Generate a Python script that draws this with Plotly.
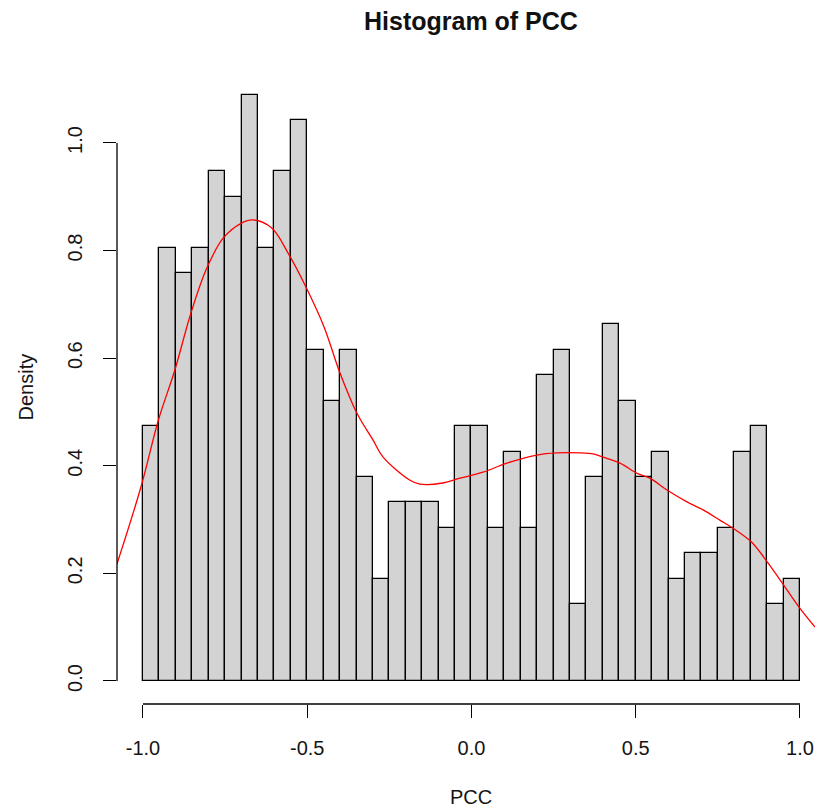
import numpy as np
import plotly.graph_objects as go

# ---- data ----
bin_start = -1.0
bin_width = 0.05
counts = [10, 17, 16, 17, 20, 19, 23, 17, 20, 22,
          13, 11, 13, 8, 4, 7, 7, 7, 6, 10,
          10, 6, 9, 6, 12, 13, 3, 8, 14, 11,
          8, 9, 4, 5, 5, 6, 9, 10, 3, 4]
n_obs = sum(counts)

dens_x = [-1.080, -1.006, -0.953, -0.903, -0.854, -0.806, -0.756, -0.700, -0.665,
          -0.608, -0.558, -0.507, -0.450, -0.400, -0.349, -0.300, -0.269, -0.187,
          -0.157, -0.087, -0.035, 0.035, 0.108, 0.199, 0.260, 0.330, 0.370, 0.400,
          0.452, 0.504, 0.543, 0.595, 0.656, 0.705, 0.756, 0.796, 0.853, 0.903,
          0.954, 1.000, 1.046]
dens_y = [0.216, 0.361, 0.485, 0.578, 0.684, 0.767, 0.823, 0.851, 0.857,
          0.842, 0.795, 0.736, 0.660, 0.572, 0.498, 0.448, 0.416, 0.373,
          0.366, 0.368, 0.377, 0.388, 0.405, 0.420, 0.424, 0.424, 0.422, 0.416,
          0.405, 0.386, 0.377, 0.355, 0.333, 0.318, 0.299, 0.284, 0.258, 0.219,
          0.175, 0.135, 0.100]

x_tickvals = [-1.0, -0.5, 0.0, 0.5, 1.0]
x_ticktext = ["-1.0", "-0.5", "0.0", "0.5", "1.0"]
y_tickvals = [0.0, 0.2, 0.4, 0.6, 0.8, 1.0]
y_ticktext = ["0.0", "0.2", "0.4", "0.6", "0.8", "1.0"]

# ---- derived ----
centers = bin_start + bin_width * (np.arange(len(counts)) + 0.5)
density = np.array(counts) / (n_obs * bin_width)

FONT = "Liberation Sans, Arial, sans-serif"
TXT = "#151515"

fig = go.Figure()
fig.add_trace(go.Bar(
    x=centers, y=density, width=bin_width,
    marker=dict(color="#D3D3D3", line=dict(color="black", width=1.3)),
    showlegend=False, hoverinfo="skip",
))
fig.add_trace(go.Scatter(
    x=dens_x, y=dens_y, mode="lines",
    line=dict(color="#FF0000", width=1.3, shape="spline"),
    showlegend=False, hoverinfo="skip",
))

PH = 808 - 71 - 104
PW = 815 - 117

fig.update_layout(
    width=815, height=808,
    margin=dict(l=117, r=0, t=71, b=104, pad=0),
    paper_bgcolor="white", plot_bgcolor="white",
    font=dict(family=FONT, size=20, color=TXT),
    bargap=0,
    xaxis=dict(
        range=[-1.0791, 1.0457], showgrid=False, zeroline=False, showline=False,
        tickvals=x_tickvals, ticktext=x_ticktext,
        ticks="outside", ticklen=13, tickwidth=1.3, tickcolor="black",
        tickfont=dict(size=20, family=FONT, color=TXT),
        ticklabelstandoff=13,
    ),
    yaxis=dict(
        range=[-0.0428, 1.1338], showgrid=False, zeroline=False, showline=False,
        tickvals=y_tickvals, ticktext=y_ticktext, tickangle=-90,
        ticks="outside", ticklen=13, tickwidth=1.3, tickcolor="black",
        tickfont=dict(size=20, family=FONT, color=TXT),
        ticklabelstandoff=13,
    ),
    shapes=[
        dict(type="line", xref="x", yref="paper", x0=-1.0, x1=1.0, y0=0, y1=0,
             line=dict(color="black", width=1.3)),
        dict(type="line", xref="paper", yref="y", x0=0, x1=0, y0=0.0, y1=1.0,
             line=dict(color="black", width=1.3)),
    ],
    annotations=[
        dict(text="<b>Histogram of PCC</b>", xref="paper", yref="paper",
             x=0.507, y=(808 - 21 - 104) / PH, xanchor="center", yanchor="middle",
             showarrow=False, font=dict(size=25, family=FONT, color="#111111")),
        dict(text="PCC", xref="paper", yref="paper",
             x=0.507, y=-(797 - 704) / PH, xanchor="center", yanchor="middle",
             showarrow=False, font=dict(size=20, family=FONT, color=TXT)),
        dict(text="Density", xref="paper", yref="paper", textangle=-90,
             x=-(117 - 25) / PW, y=0.5, xanchor="center", yanchor="middle",
             showarrow=False, font=dict(size=20, family=FONT, color=TXT)),
    ],
)

fig.write_html("out.html")
